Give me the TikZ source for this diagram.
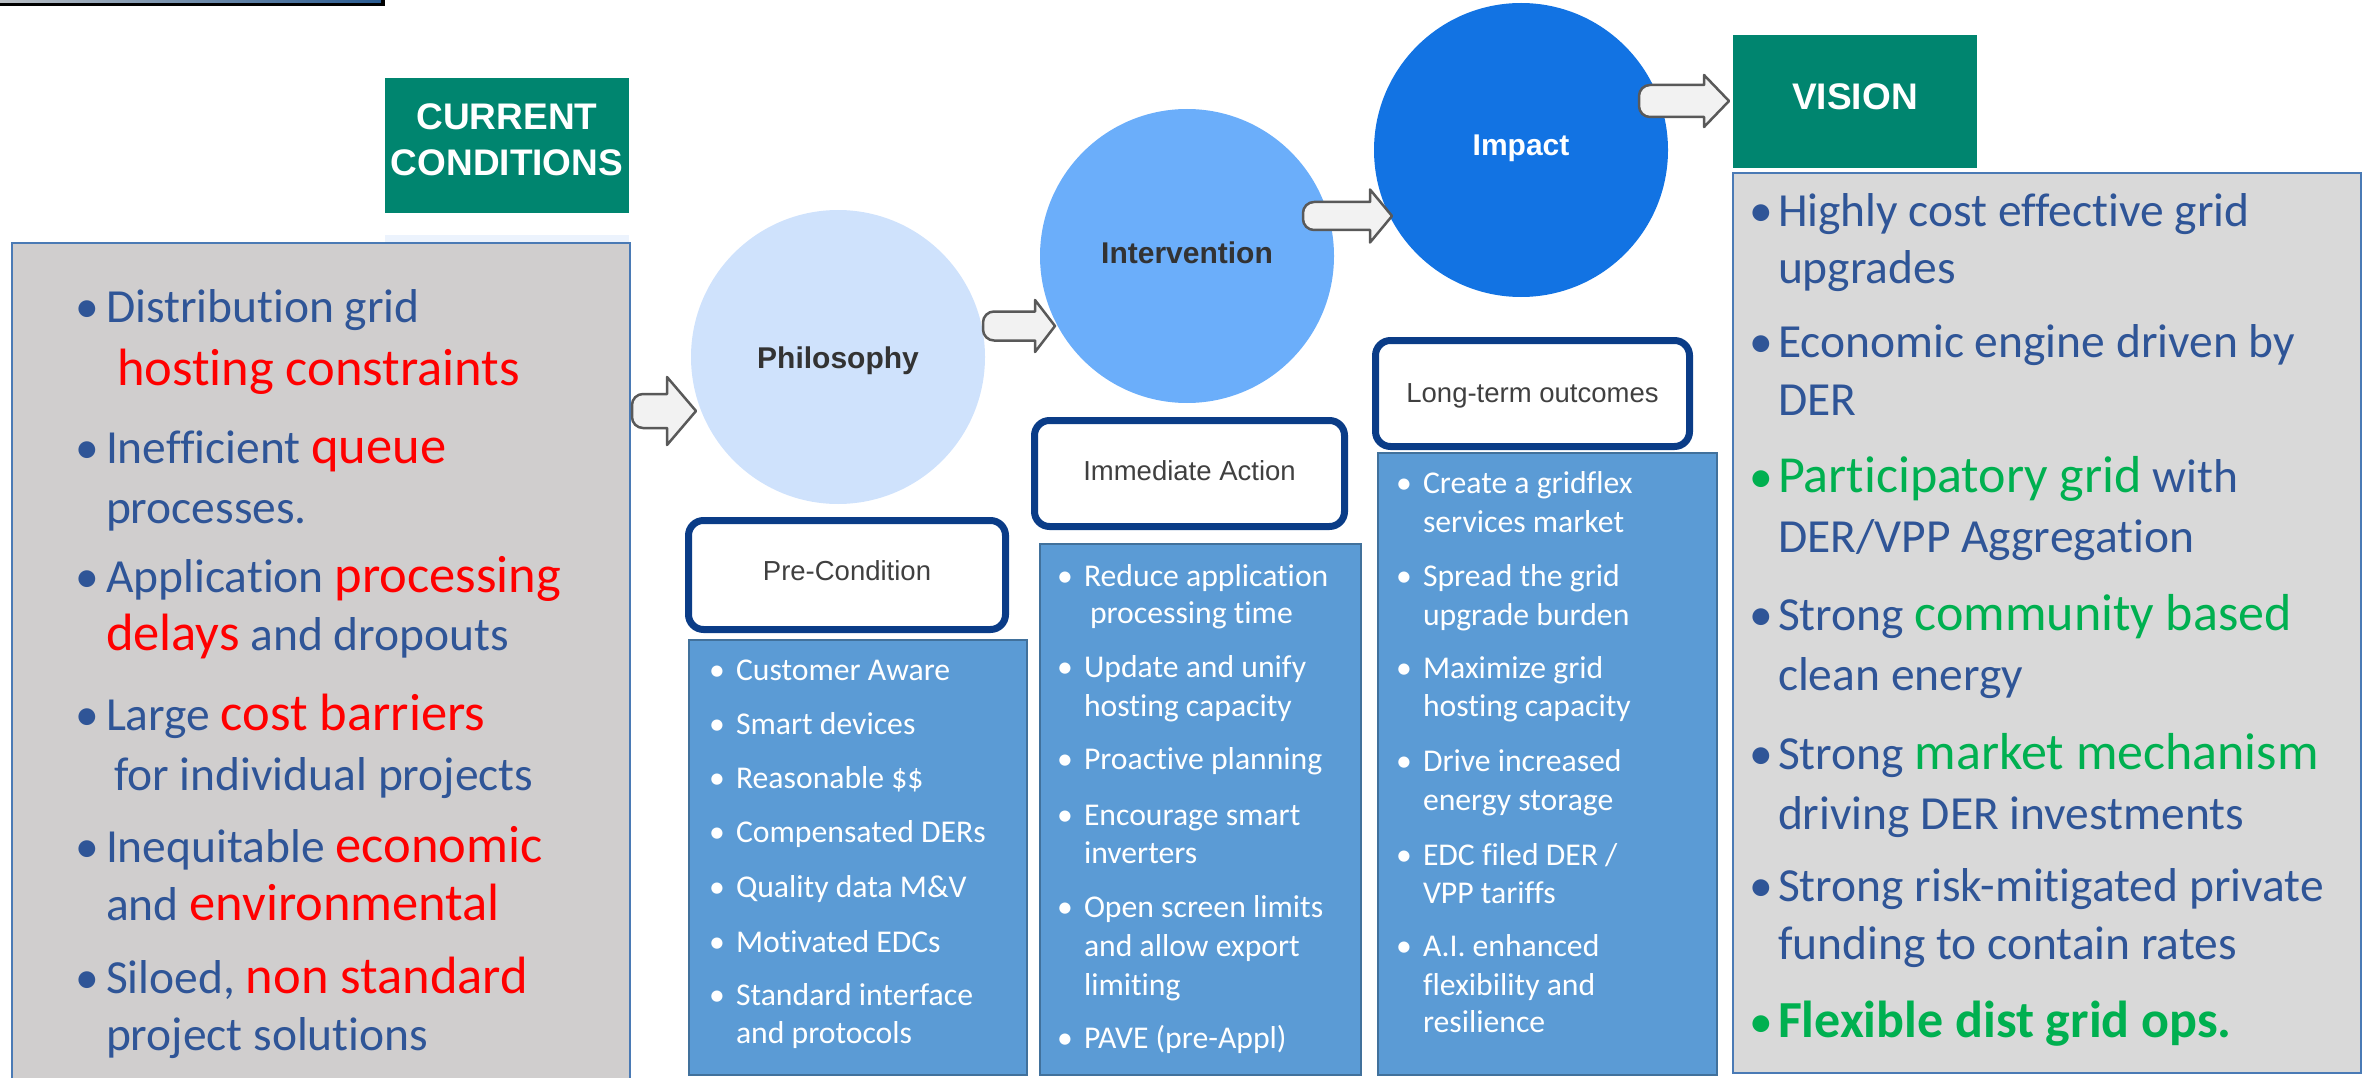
\documentclass[tikz,border=0pt]{standalone}
\usepackage{fontspec}
\setmainfont{Carlito}
\newfontfamily\calib[Ligatures={NoCommon}]{Carlito}
\newfontfamily\arialf{Liberation Sans}
\usetikzlibrary{positioning}
\definecolor{tealc}{RGB}{0,133,111}
\definecolor{leftgray}{RGB}{208,206,206}
\definecolor{rightgray}{RGB}{217,217,217}
\definecolor{boxedge}{RGB}{74,122,181}
\definecolor{blueT}{RGB}{47,85,151}
\definecolor{redT}{RGB}{255,0,0}
\definecolor{greenT}{RGB}{0,176,80}
\definecolor{listblue}{RGB}{91,155,213}
\definecolor{listedge}{RGB}{65,113,156}
\definecolor{navy}{RGB}{10,60,135}
\definecolor{philc}{RGB}{207,226,252}
\definecolor{interc}{RGB}{107,174,250}
\definecolor{impc}{RGB}{18,115,227}
\definecolor{arrowfill}{RGB}{242,242,242}
\definecolor{arrowedge}{RGB}{89,89,89}
\definecolor{hdrtext}{RGB}{64,64,64}
\definecolor{circtext}{RGB}{51,51,51}
\definecolor{barL}{RGB}{190,194,198}
\definecolor{barR}{RGB}{40,90,145}
\definecolor{stripc}{RGB}{236,243,253}
\newcommand\bigred[1]{{\fontsize{52.5pt}{60pt}\selectfont\color{redT}#1}}
\newcommand\biggreen[1]{{\fontsize{52pt}{60pt}\selectfont\color{greenT}#1}}
\newcommand\putline[5]{\node[#1,anchor=base west] (#2) at (#3,#4) {#5};}
\newcommand\putbul[4]{\node[#1,anchor=base] (#2) at (#3,#4) {•};}
\newcommand\myarrow[6]{\draw[barrow] ({#3},{#4-#5}) [rounded corners=11pt] -- ({#1},{#4-#5}) -- ({#1},{#4+#5}) [sharp corners] -- ({#3},{#4+#5}) -- ({#3},{#4+#6}) -- ({#2},{#4}) -- ({#3},{#4-#6}) -- cycle;}
\tikzset{
  bigtxt/.style={font=\calib\fontsize{47.5pt}{57pt}\selectfont, text=blueT, inner sep=0pt, outer sep=0pt},
  smtxt/.style={font=\calib\fontsize{31.7pt}{38pt}\selectfont, text=white, inner sep=0pt, outer sep=0pt},
  hdrtxt/.style={font=\arialf\fontsize{27.5pt}{33pt}\selectfont, text=hdrtext, inner sep=0pt},
  circtxt/.style={font=\arialf\bfseries\fontsize{30pt}{36pt}\selectfont, text=circtext, inner sep=0pt},
  tealtxt/.style={font=\arialf\bfseries\fontsize{37pt}{44pt}\selectfont, text=white, inner sep=0pt},
  greybox/.style={rectangle, draw=boxedge, line width=2pt, inner sep=0pt},
  tealbox/.style={rectangle, fill=tealc, inner sep=0pt},
  hdrbox/.style={rectangle, draw=navy, line width=7pt, rounded corners=15pt, fill=white, inner sep=0pt},
  listbox/.style={rectangle, draw=listedge, line width=2pt, fill=listblue, inner sep=0pt},
  circ/.style={circle, inner sep=0pt, minimum size=294pt},
  barrow/.style={fill=arrowfill, draw=arrowedge, line width=2.5pt, line join=round},
}
\begin{document}
\begin{tikzpicture}[x=1pt,y=-1pt]
\useasboundingbox (0,0) rectangle (2364,1078);
% top-left bar
\shade[left color=barL, right color=barR, draw=black, line width=3.5pt] (-10,-10) rectangle (383,4.5);
% header boxes
\node[tealbox, minimum width=244pt, minimum height=135pt] (cc) at (507,145.5) {};
\node[tealtxt, anchor=base] (cc1) at (507,130) {CURRENT};
\node[tealtxt, anchor=base] (cc2) at (507,176) {CONDITIONS};
\fill[stripc] (385,235) rectangle (629,243);
\node[tealbox, minimum width=244pt, minimum height=133pt] (vis) at (1855,101.5) {};
\node[tealtxt, anchor=base] (vis1) at (1855,110) {VISION};
% grey boxes
\node[greybox, fill=leftgray, minimum width=618pt, minimum height=850pt] (left) at (321,668) {};
\node[greybox, fill=rightgray, minimum width=628pt, minimum height=900pt] (right) at (2047,623) {};
% circles
\node[circ, fill=philc] (phil) at (838,357) {};
\node[circ, fill=interc] (inter) at (1187,256) {};
\node[circ, fill=impc] (imp) at (1521,150) {};
\node[circtxt, anchor=base] (philt) at (838,368) {Philosophy};
\node[circtxt, anchor=base] (intert) at (1187,263) {Intervention};
\node[circtxt, anchor=base, text=white] (impt) at (1521,156) {Impact};
% list boxes
\node[listbox, minimum width=338pt, minimum height=435pt] (list1) at (858,857.5) {};
\node[listbox, minimum width=321pt, minimum height=531pt] (list2) at (1200.5,809.5) {};
\node[listbox, minimum width=339pt, minimum height=622pt] (list3) at (1547.5,764) {};
% small header boxes
\node[hdrbox, minimum width=317pt, minimum height=109pt] (pre) at (847,575) {};
\node[hdrtxt, anchor=base] (pret) at (847,580) {Pre-Condition};
\node[hdrbox, minimum width=310pt, minimum height=106pt] (imm) at (1189.5,473.5) {};
\node[hdrtxt, anchor=base] (immt) at (1189.5,480) {Immediate Action};
\node[hdrbox, minimum width=314pt, minimum height=106pt] (lto) at (1532.5,393.5) {};
\node[hdrtxt, anchor=base] (ltot) at (1532.5,402) {Long-term outcomes};
% block arrows
\myarrow{632}{696}{667}{411}{17}{34}
\myarrow{983}{1055}{1035}{326}{14.5}{26}
\myarrow{1303}{1392}{1370}{216}{14}{26.5}
\myarrow{1639}{1729}{1704}{101}{16}{26}
% left box text
\putbul{bigtxt}{lb1}{87}{322}
\putline{bigtxt}{l1a}{106}{322}{Distribution grid}
\putline{bigtxt}{l1b}{117}{385}{\bigred{hosting constraints}}
\putbul{bigtxt}{lb2}{87}{463}
\putline{bigtxt}{l2a}{106}{463}{Inefficient \bigred{queue}}
\putline{bigtxt}{l2b}{106}{523}{processes.}
\putbul{bigtxt}{lb3}{87}{592}
\putline{bigtxt}{l3a}{106}{592}{Application \bigred{processing}}
\putline{bigtxt}{l3b}{106}{650}{\bigred{delays} and dropouts}
\putbul{bigtxt}{lb4}{87}{730}
\putline{bigtxt}{l4a}{106}{730}{Large \bigred{cost barriers}}
\putline{bigtxt}{l4b}{114}{790}{for individual projects}
\putbul{bigtxt}{lb5}{87}{862}
\putline{bigtxt}{l5a}{106}{862}{Inequitable \bigred{economic}}
\putline{bigtxt}{l5b}{106}{920}{and \bigred{environmental}}
\putbul{bigtxt}{lb6}{87}{993}
\putline{bigtxt}{l6a}{106}{993}{Siloed, \bigred{non standard}}
\putline{bigtxt}{l6b}{106}{1050}{project solutions}
% right box text
\putbul{bigtxt}{rb1}{1761}{226}
\putline{bigtxt}{r1a}{1778}{226}{Highly cost effective grid}
\putline{bigtxt}{r1b}{1778}{283}{upgrades}
\putbul{bigtxt}{rb2}{1761}{357}
\putline{bigtxt}{r2a}{1778}{357}{Economic engine driven by}
\putline{bigtxt}{r2b}{1778}{415}{DER}
\putbul{bigtxt,text=greenT}{rb3}{1761}{492}
\putline{bigtxt}{r3a}{1778}{492}{\biggreen{Participatory grid} with}
\putline{bigtxt}{r3b}{1778}{552}{DER/VPP Aggregation}
\putbul{bigtxt}{rb4}{1761}{630}
\putline{bigtxt}{r4a}{1778}{630}{Strong \biggreen{community based}}
\putline{bigtxt}{r4b}{1778}{690}{clean energy}
\putbul{bigtxt}{rb5}{1761}{769}
\putline{bigtxt}{r5a}{1778}{769}{Strong \biggreen{market mechanism}}
\putline{bigtxt}{r5b}{1778}{829}{driving DER investments}
\putbul{bigtxt}{rb6}{1761}{901}
\putline{bigtxt}{r6a}{1778}{901}{Strong risk-mitigated private}
\putline{bigtxt}{r6b}{1778}{959}{funding to contain rates}
\putbul{bigtxt,text=greenT}{rb7}{1761}{1037}
\putline{bigtxt}{r7a}{1778}{1037}{\biggreen{\bfseries Flexible dist grid ops.}}
% pre-condition list
\putbul{smtxt}{pb1}{717}{680}
\putline{smtxt}{p1}{736}{680}{Customer Aware}
\putbul{smtxt}{pb2}{717}{734}
\putline{smtxt}{p2}{736}{734}{Smart devices}
\putbul{smtxt}{pb3}{717}{788}
\putline{smtxt}{p3}{736}{788}{Reasonable \$\$}
\putbul{smtxt}{pb4}{717}{842}
\putline{smtxt}{p4}{736}{842}{Compensated DERs}
\putbul{smtxt}{pb5}{717}{897}
\putline{smtxt}{p5}{736}{897}{Quality data M\&V}
\putbul{smtxt}{pb6}{717}{952}
\putline{smtxt}{p6}{736}{952}{Motivated EDCs}
\putbul{smtxt}{pb7}{717}{1005}
\putline{smtxt}{p7a}{736}{1005}{Standard interface}
\putline{smtxt}{p7b}{736}{1043}{and protocols}
% immediate action list
\putbul{smtxt}{ib1}{1065}{586}
\putline{smtxt}{i1a}{1084}{586}{Reduce application}
\putline{smtxt}{i1b}{1090}{623}{processing time}
\putbul{smtxt}{ib2}{1065}{677}
\putline{smtxt}{i2a}{1084}{677}{Update and unify}
\putline{smtxt}{i2b}{1084}{716}{hosting capacity}
\putbul{smtxt}{ib3}{1065}{769}
\putline{smtxt}{i3}{1084}{769}{Proactive planning}
\putbul{smtxt}{ib4}{1065}{825}
\putline{smtxt}{i4a}{1084}{825}{Encourage smart}
\putline{smtxt}{i4b}{1084}{863}{inverters}
\putbul{smtxt}{ib5}{1065}{917}
\putline{smtxt}{i5a}{1084}{917}{Open screen limits}
\putline{smtxt}{i5b}{1084}{956}{and allow export}
\putline{smtxt}{i5c}{1084}{995}{limiting}
\putbul{smtxt}{ib6}{1065}{1048}
\putline{smtxt}{i6}{1084}{1048}{PAVE (pre-Appl)}
% long-term list
\putbul{smtxt}{ob1}{1404}{493}
\putline{smtxt}{o1a}{1423}{493}{Create a gridflex}
\putline{smtxt}{o1b}{1423}{532}{services market}
\putbul{smtxt}{ob2}{1404}{586}
\putline{smtxt}{o2a}{1423}{586}{Spread the grid}
\putline{smtxt}{o2b}{1423}{625}{upgrade burden}
\putbul{smtxt}{ob3}{1404}{678}
\putline{smtxt}{o3a}{1423}{678}{Maximize grid}
\putline{smtxt}{o3b}{1423}{716}{hosting capacity}
\putbul{smtxt}{ob4}{1404}{771}
\putline{smtxt}{o4a}{1423}{771}{Drive increased}
\putline{smtxt}{o4b}{1423}{810}{energy storage}
\putbul{smtxt}{ob5}{1404}{865}
\putline{smtxt}{o5a}{1423}{865}{EDC filed DER /}
\putline{smtxt}{o5b}{1423}{903}{VPP tariffs}
\putbul{smtxt}{ob6}{1404}{956}
\putline{smtxt}{o6a}{1423}{956}{A.I. enhanced}
\putline{smtxt}{o6b}{1423}{995}{flexibility and}
\putline{smtxt}{o6c}{1423}{1032}{resilience}
\end{tikzpicture}
\end{document}
